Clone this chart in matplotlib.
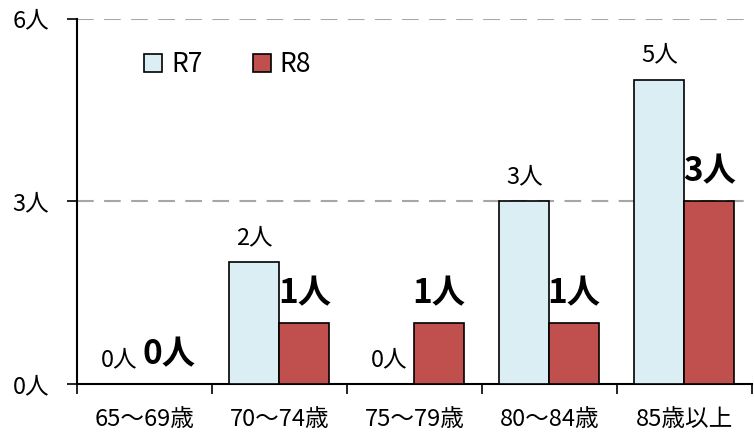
import matplotlib
matplotlib.use("Agg")
import matplotlib.pyplot as plt
import numpy as np

plt.rcParams['font.family'] = ['Noto Sans CJK JP', 'DejaVu Sans']

categories = ["65～69歳", "70～74歳", "75～79歳", "80～84歳", "85歳以上"]
r7 = [0, 2, 0, 3, 5]
r8 = [0, 1, 1, 1, 3]
yticks = [0, 3, 6]

fig = plt.figure(figsize=(7.54, 4.37), dpi=100)
ax = fig.add_axes([0.102, 0.121, 0.895, 0.836])

x = np.arange(len(categories))
w = 0.37
ax.bar(x - w / 2, r7, w, color="#DAEEF3", edgecolor="black", linewidth=1.2, label="R7", zorder=3)
ax.bar(x + w / 2, r8, w, color="#C0504D", edgecolor="black", linewidth=1.2, label="R8", zorder=3)

# value labels sit behind the bars (the big ones get clipped by the neighbour bar)
for i in range(len(categories)):
    ax.text(x[i] - w / 2, r7[i] + 0.3, f"{r7[i]}人", ha="center", va="baseline",
            fontsize=17, zorder=2)
    ax.text(x[i] + w / 2, r8[i] + 0.33, f"{r8[i]}人", ha="center", va="baseline",
            fontsize=24, fontweight="bold", zorder=2)

for yv in yticks[1:]:
    ax.axhline(yv, color="#A6A6A6", linestyle=(0, (8, 5)), linewidth=1.5, zorder=1)

ax.set_xlim(-0.5, len(categories) - 0.5)
ax.set_ylim(0, 6)
ax.set_yticks(yticks)
ax.set_yticklabels([f"{v}人" for v in yticks], fontsize=17)
ax.set_xticks(np.arange(len(categories) + 1) - 0.5)
ax.set_xticklabels([])
ax.set_xticks(x, minor=True)
ax.set_xticklabels(categories, minor=True, fontsize=17)
ax.tick_params(axis="x", which="minor", length=0, pad=17)
ax.tick_params(axis="x", which="major", length=7, width=1.2, direction="out")
ax.tick_params(axis="y", length=7, width=1.2, direction="out", pad=13)
for s in ["top", "right"]:
    ax.spines[s].set_visible(False)
for s in ["left", "bottom"]:
    ax.spines[s].set_linewidth(1.5)

ax.legend(loc="center left", bbox_to_anchor=(0.1, 0.875), ncol=2, frameon=False,
          fontsize=19, handlelength=0.68, handleheight=0.68, columnspacing=1.9,
          handletextpad=0.34, borderaxespad=0, borderpad=0)

fig.savefig("out.png", dpi=100)
